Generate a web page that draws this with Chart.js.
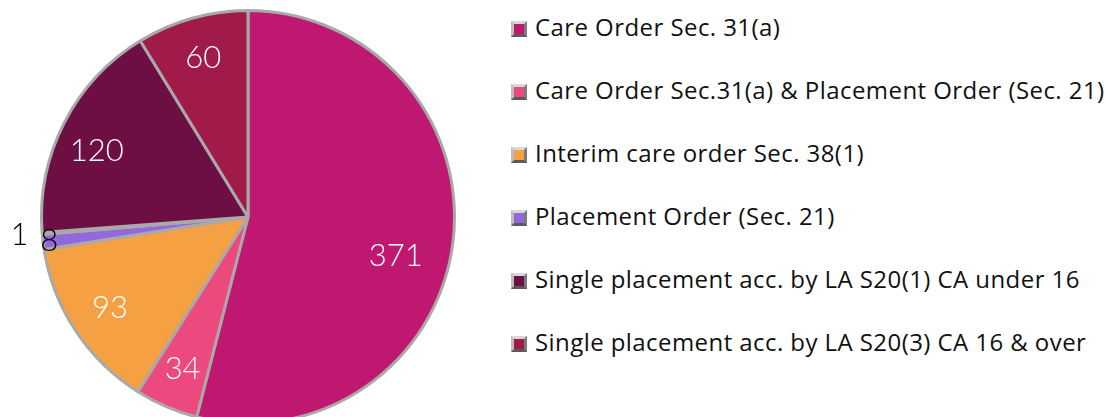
<!DOCTYPE html>
<html lang="en">
<head>
<meta charset="UTF-8">
<title>Orders</title>
<script src="https://cdn.jsdelivr.net/npm/chart.js@4.4.1/dist/chart.umd.min.js"></script>
<style>
  html, body { margin: 0; padding: 0; background: #fff; overflow: hidden; }
  body { width: 1107px; height: 417px; position: relative; }
  #pieBox { position: absolute; left: 0; top: 0; width: 496px; height: 434px; }
  #legend { position: absolute; left: 511px; top: 10px; font-family: "Open Sans", "Noto Sans", sans-serif; font-size: 24px; letter-spacing: 0.43px; color: #111; }
  .item { height: 63px; display: flex; align-items: flex-start; white-space: nowrap; }
  .item span.box { display: inline-block; width: 10px; height: 10px; margin-top: 11px; margin-right: 8px;
    border: 3px solid; border-color: #d8d8d8 #7a7a7a #5a5a5a #bdbdbd; }
</style>
</head>
<body>
  <div id="pieBox"><canvas id="pie" width="496" height="434"></canvas></div>
  <div id="legend"></div>

<script>
  // categories (the empty one has no legend entry in the original)
  var categories = [
    "Care Order Sec. 31(a)",
    "Care Order Sec.31(a) & Placement Order (Sec. 21)",
    "Interim care order Sec. 38(1)",
    "Placement Order (Sec. 21)",
    "",
    "Single placement acc. by LA S20(1) CA under 16",
    "Single placement acc. by LA S20(3) CA 16 & over"
  ];
  var counts = [371, 34, 93, 8, 1, 120, 60];
  var colours = ["#bf1870", "#ec4a7e", "#f5a043", "#9467dc", "#f2eef4", "#6e0f44", "#a01b4a"];

  // legend
  var legendDiv = document.getElementById("legend");
  for (var i = 0; i < categories.length; i++) {
    if (categories[i] === "") continue;
    legendDiv.innerHTML += '<div class="item"><span class="box" style="background:' + colours[i] + '"></span>' + categories[i] + '</div>';
  }

  // values written on the slices, small ones go outside in black
  var sliceLabels = {
    id: "sliceLabels",
    afterDatasetsDraw: function(chart) {
      var ctx = chart.ctx;
      var arcs = chart.getDatasetMeta(0).data;
      var outside = 0;
      ctx.save();
      ctx.font = "300 31px Lato, 'Open Sans', sans-serif";
      ctx.textAlign = "center";
      ctx.textBaseline = "middle";
      for (var i = 0; i < arcs.length; i++) {
        var a = arcs[i];
        var mid = (a.startAngle + a.endAngle) / 2;
        var f = 0.8;
        ctx.fillStyle = "#ffffff";
        if (counts[i] < 10) {
          f = 0.97 + outside * 0.14;
          outside++;
          ctx.fillStyle = "#000000";
        } else if (i === 0) {
          f = 0.74;
          mid += 0.13;
        } else if (i === 5) {
          mid -= 0.06;
        }
        var x = a.x + Math.cos(mid) * a.outerRadius * f;
        var y = a.y + Math.sin(mid) * a.outerRadius * f;
        ctx.fillText(String(counts[i]), x, y);
      }
      ctx.restore();
    }
  };

  var ctx = document.getElementById("pie").getContext("2d");
  var myChart = new Chart(ctx, {
    type: "pie",
    data: {
      labels: categories,
      datasets: [{
        data: counts,
        backgroundColor: colours,
        borderColor: "#a9a9a9",
        borderWidth: 3
      }]
    },
    options: {
      responsive: false,
      animation: false,
      layout: { padding: 9 },
      plugins: {
        legend: { display: false },
        tooltip: { enabled: false }
      }
    },
    plugins: [sliceLabels]
  });
</script>
</body>
</html>
